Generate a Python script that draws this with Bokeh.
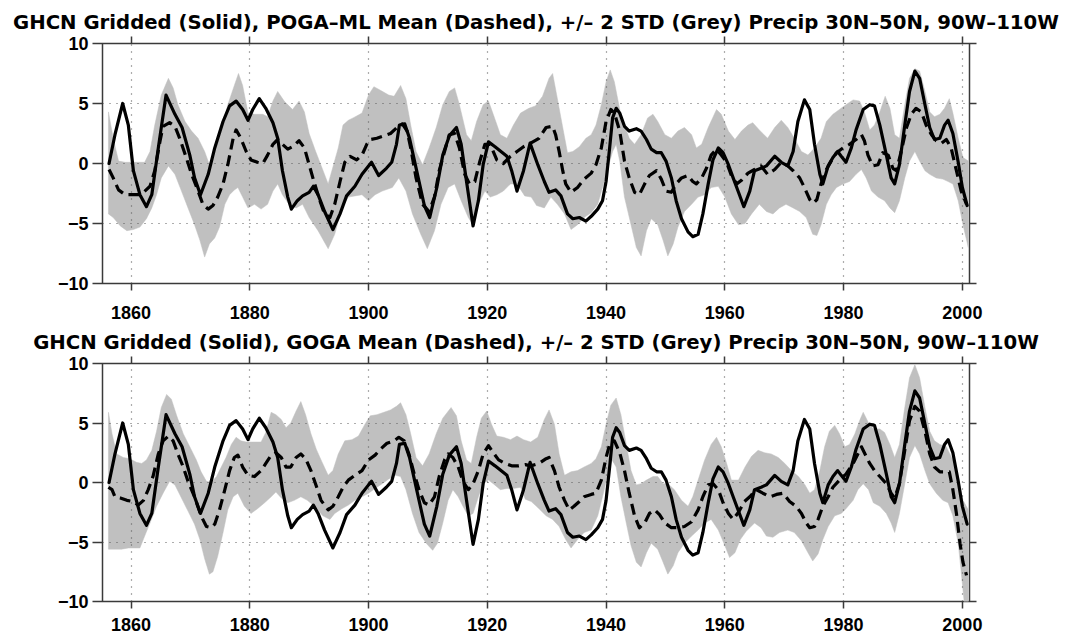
from bokeh.plotting import figure
from bokeh.models import Range1d, FixedTicker, LinearAxis, CustomJSTickFormatter
from bokeh.layouts import column
from bokeh.embed import file_html
from bokeh.resources import INLINE

# ---------------- data ----------------
ghcn_year = [1856.3, 1857.3, 1858.6, 1859.55, 1860.4, 1861.5, 1862.6, 1863.5, 1864.6, 1865.9,
             1867.4, 1868.6, 1869.9, 1870.7, 1871.7, 1873.0, 1874.1, 1875.5, 1876.6, 1877.7,
             1878.8, 1879.7, 1880.5, 1881.6, 1882.7, 1883.9, 1884.7, 1885.5, 1886.4, 1887.0,
             1888.0, 1888.9, 1890.0, 1890.7, 1891.5, 1892.6, 1894.0, 1895.2, 1896.3, 1897.7,
             1898.9, 1900.0, 1900.5, 1901.7, 1903.0, 1903.9, 1904.7, 1905.2, 1906.1, 1906.9,
             1908.1, 1909.4, 1910.3, 1911.5, 1912.5, 1913.6, 1914.8, 1915.6, 1916.5, 1917.6,
             1918.5, 1919.3, 1920.2, 1921.3, 1923.3, 1924.1, 1925.0, 1926.1, 1927.2, 1928.5,
             1929.6, 1930.4, 1931.5, 1932.4, 1933.5, 1934.4, 1935.5, 1936.6, 1937.5, 1938.6,
             1939.4, 1940.0, 1940.6, 1941.1, 1941.7, 1942.3, 1943.1, 1943.9, 1945.1, 1945.9,
             1946.8, 1947.6, 1948.5, 1949.3, 1950.1, 1951.0, 1951.8, 1952.7, 1953.8, 1954.6,
             1955.5, 1956.3, 1957.2, 1958.0, 1958.9, 1959.7, 1960.6, 1961.4, 1962.3, 1963.2,
             1964.2, 1965.0, 1966.1, 1967.0, 1968.4, 1969.5, 1970.6, 1971.5, 1972.3, 1973.4,
             1974.3, 1975.1, 1976.0, 1976.5, 1977.4, 1978.2, 1979.0, 1979.6, 1980.4, 1981.3,
             1982.1, 1983.3, 1984.4, 1985.2, 1986.1, 1987.2, 1988.0, 1988.6, 1989.4, 1990.3,
             1991.1, 1992.0, 1992.8, 1993.7, 1994.5, 1995.3, 1996.2, 1997.0, 1997.6, 1998.4,
             1999.3, 2000.0, 2000.8]
ghcn_precip = [0.0, 2.4, 5.0, 3.2, -0.6, -2.6, -3.6, -2.6, 1.3, 5.7,
               4.1, 3.0, 0.7, -1.2, -2.6, -0.9, 1.3, 3.5, 4.8, 5.2,
               4.5, 3.6, 4.5, 5.4, 4.6, 3.4, 2.1, -0.6, -2.8, -3.8,
               -3.1, -2.7, -2.4, -1.9, -2.6, -4.0, -5.5, -4.2, -2.7, -1.9,
               -0.9, -0.2, 0.1, -1.0, -0.4, 0.1, 1.6, 3.2, 3.3, 2.1,
               -0.6, -3.5, -4.5, -2.0, 0.7, 2.3, 3.0, 1.6, -1.5, -5.2,
               -3.1, -0.1, 1.8, 1.4, 0.6, -0.6, -2.3, -0.6, 1.7, -0.1,
               -1.5, -2.4, -2.2, -2.7, -4.2, -4.6, -4.5, -4.8, -4.4, -3.8,
               -3.1, -1.5, 1.3, 3.8, 4.6, 4.2, 3.1, 2.7, 2.9, 2.7,
               2.0, 1.2, 0.9, 0.9, 0.2, -1.2, -3.1, -4.6, -5.7, -6.1,
               -5.9, -4.2, -1.7, 0.3, 1.3, 0.9, -0.1, -1.2, -2.4, -3.6,
               -2.3, -0.6, -0.4, -0.2, 0.6, 0.1, -0.2, 1.0, 3.5, 5.3,
               4.5, 1.6, -0.9, -1.7, -0.2, 0.5, 1.0, 0.6, 0.1, 1.3,
               2.8, 4.5, 4.9, 4.8, 3.2, 0.7, -1.2, -1.7, -0.1, 3.2,
               6.0, 7.7, 7.1, 4.9, 3.0, 2.0, 2.1, 3.2, 3.6, 2.5,
               0.1, -2.0, -3.5]

poga_year = [1856.3, 1857.0, 1857.9, 1859.0, 1860.1, 1861.2, 1862.1, 1863.2, 1864.0, 1864.9,
             1865.4, 1866.5, 1867.4, 1868.2, 1869.3, 1870.2, 1871.3, 1872.1, 1873.0, 1873.8,
             1874.6, 1875.5, 1876.3, 1877.2, 1877.7, 1878.5, 1879.4, 1880.2, 1881.3, 1882.2,
             1883.0, 1883.9, 1884.7, 1885.5, 1886.4, 1887.2, 1888.3, 1889.2, 1890.0, 1890.8,
             1891.8, 1892.6, 1893.5, 1894.3, 1895.2, 1896.0, 1896.9, 1898.0, 1898.9, 1899.7,
             1900.3, 1901.4, 1902.6, 1903.7, 1904.8, 1905.7, 1906.5, 1907.1, 1908.0, 1909.1,
             1910.2, 1911.1, 1911.9, 1912.8, 1913.6, 1914.5, 1915.3, 1916.2, 1917.0, 1917.9,
             1918.75, 1919.6, 1920.5, 1921.6, 1922.7, 1923.9, 1925.0, 1926.1, 1927.3, 1928.7,
             1929.9, 1931.0, 1931.5, 1932.1, 1932.7, 1933.2, 1934.1, 1935.2, 1936.3, 1937.5,
             1938.3, 1939.2, 1940.0, 1940.8, 1941.4, 1942.3, 1943.1, 1943.9, 1944.8, 1945.6,
             1946.5, 1947.3, 1948.5, 1949.3, 1950.1, 1951.0, 1951.8, 1952.7, 1953.8, 1954.6,
             1955.2, 1956.1, 1956.9, 1957.7, 1958.6, 1959.4, 1960.3, 1961.1, 1962.0, 1962.8,
             1963.9, 1965.0, 1966.1, 1967.2, 1968.4, 1969.5, 1970.6, 1971.5, 1972.6, 1973.4,
             1974.3, 1974.9, 1975.5, 1976.2, 1977.1, 1977.9, 1978.8, 1979.9, 1981.0, 1982.1,
             1983.0, 1983.5, 1984.1, 1984.9, 1985.8, 1986.6, 1987.5, 1988.3, 1988.9, 1989.7,
             1990.6, 1991.4, 1992.2, 1993.1, 1993.9, 1994.8, 1995.6, 1996.5, 1997.3, 1998.1,
             1999.0, 1999.8, 2000.7]
poga_mean = [-0.5, -1.2, -2.2, -2.6, -2.6, -2.6, -2.4, -1.9, -0.6, 1.9,
             3.1, 3.4, 3.1, 2.1, 0.5, -0.9, -2.3, -3.4, -3.8, -3.5,
             -2.8, -1.7, -0.1, 2.1, 2.8, 2.1, 1.0, 0.3, 0.1, 0.0,
             0.7, 1.6, 2.0, 1.6, 1.2, 1.4, 1.9, 1.3, -0.1, -1.5,
             -3.1, -4.2, -4.5, -3.4, -1.5, 0.1, 0.6, 0.3, 0.7, 1.6,
             2.0, 2.1, 2.3, 2.5, 3.0, 3.3, 2.7, 1.3, -1.2, -3.4,
             -4.0, -2.8, -0.6, 1.0, 2.4, 2.5, 1.3, -0.9, -1.7, -1.5,
             0.2, 1.6, 1.6, 0.3, 0.0, 0.6, 1.0, 1.4, 1.7, 2.1,
             3.0, 3.1, 2.4, 1.0, -0.6, -1.7, -2.4, -2.0, -1.3, -0.8,
             -0.1, 1.3, 3.5, 4.5, 4.2, 2.7, 0.2, -1.2, -2.4, -2.6,
             -1.7, -1.0, -0.6, -1.3, -2.3, -2.4, -1.7, -1.2, -1.0, -1.5,
             -1.7, -1.2, -0.4, 0.7, 1.2, 0.7, 0.1, -1.0, -1.7, -1.4,
             -0.8, -0.5, -0.2, -0.9, -0.5, 0.1, -0.2, -0.6, -1.2, -2.0,
             -3.0, -3.3, -3.0, -1.7, -0.5, 0.2, 0.9, 1.3, 1.6, 2.0,
             2.4, 1.9, 0.7, -0.2, -0.1, 0.9, 0.7, -0.4, -0.6, 1.0,
             3.0, 4.1, 4.6, 4.3, 3.2, 2.4, 1.9, 1.7, 2.0, 1.3,
             -0.6, -2.3, -3.4]

poga_hi_year = [1856.2, 1857.0, 1857.9, 1859.0, 1860.1, 1861.2, 1862.3, 1863.2, 1864.0, 1865.1,
                1866.3, 1867.1, 1867.9, 1869.1, 1870.2, 1871.3, 1872.4, 1873.2, 1874.1, 1875.2,
                1876.3, 1877.4, 1878.1, 1878.8, 1879.7, 1880.8, 1882.2, 1883.0, 1883.9, 1884.7,
                1885.8, 1887.2, 1888.3, 1889.2, 1890.0, 1891.1, 1893.2, 1894.9, 1895.7, 1896.6,
                1897.4, 1898.9, 1900.0, 1900.9, 1902.0, 1903.4, 1904.3, 1905.4, 1906.3, 1907.1,
                1908.0, 1909.1, 1910.2, 1911.4, 1912.5, 1913.6, 1914.5, 1915.3, 1916.5, 1917.3,
                1918.2, 1919.3, 1920.2, 1921.0, 1922.2, 1923.3, 1924.4, 1925.6, 1927.0, 1928.1,
                1929.3, 1930.4, 1931.0, 1931.8, 1932.7, 1933.5, 1934.4, 1935.5, 1936.6, 1937.5,
                1938.3, 1939.2, 1940.0, 1940.7, 1941.4, 1942.3, 1943.1, 1943.9, 1944.8, 1945.9,
                1947.0, 1947.9, 1948.7, 1949.9, 1951.0, 1952.1, 1953.2, 1954.4, 1955.2, 1956.1,
                1957.2, 1958.6, 1959.4, 1960.6, 1961.7, 1962.8, 1963.9, 1964.7, 1965.8, 1967.2,
                1968.4, 1969.5, 1970.6, 1971.7, 1972.9, 1974.0, 1975.1, 1976.2, 1977.1, 1978.2,
                1979.3, 1980.4, 1981.6, 1982.7, 1983.5, 1984.4, 1985.2, 1986.1, 1987.0, 1987.8,
                1988.6, 1989.4, 1990.3, 1991.1, 1992.0, 1992.8, 1993.7, 1994.5, 1995.3, 1996.2,
                1997.0, 1997.8, 1998.4, 1999.3, 2000.1, 2001.0]
poga_hi = [4.3, 2.1, 0.2, 0.1, 0.1, 0.1, 0.1, 1.0, 3.2, 5.7,
           7.1, 6.3, 4.9, 3.5, 2.7, 2.1, 1.0, -0.1, 1.0, 2.7,
           4.9, 6.5, 7.5, 6.5, 4.2, 4.1, 4.1, 3.9, 5.2, 6.0,
           5.2, 4.5, 5.2, 4.3, 2.5, 1.0, -1.7, 1.3, 3.2, 3.6,
           3.8, 4.2, 5.7, 6.4, 6.1, 5.7, 5.6, 6.5, 5.4, 3.2,
           1.0, -0.1, 1.3, 3.0, 4.9, 6.0, 6.3, 4.9, 2.4, 1.9,
           3.5, 4.9, 5.2, 4.1, 2.4, 2.1, 3.2, 4.2, 4.6, 4.8,
           5.6, 7.1, 7.5, 5.4, 3.0, 0.9, 1.0, 1.4, 2.1, 2.4,
           3.2, 4.9, 6.8, 7.8, 6.8, 4.5, 3.2, 2.1, 1.6, 2.4,
           3.8, 4.1, 3.5, 2.4, 2.1, 2.7, 3.0, 2.4, 1.3, 1.6,
           3.0, 4.5, 4.1, 2.7, 2.0, 2.7, 3.2, 3.4, 2.8, 2.1,
           3.0, 3.6, 3.0, 2.1, 1.0, 0.7, 1.3, 2.1, 3.5, 4.1,
           4.5, 4.9, 5.3, 5.2, 4.3, 2.8, 3.2, 4.3, 5.6, 4.6,
           2.4, 2.1, 4.9, 7.1, 7.9, 7.7, 6.0, 4.3, 3.9, 4.1,
           4.6, 5.4, 4.2, 2.1, 0.5, 0.2]

poga_lo_year = [1856.2, 1857.0, 1858.2, 1859.3, 1860.4, 1861.5, 1862.6, 1863.5, 1864.3, 1865.1,
                1866.3, 1867.4, 1868.5, 1869.6, 1870.7, 1871.6, 1872.4, 1873.2, 1874.1, 1874.9,
                1875.8, 1876.6, 1877.4, 1878.0, 1878.8, 1879.7, 1880.8, 1881.9, 1883.0, 1883.9,
                1884.7, 1885.5, 1886.6, 1887.8, 1888.9, 1890.0, 1891.5, 1893.2, 1894.3, 1895.5,
                1896.6, 1897.7, 1898.9, 1900.0, 1901.1, 1902.3, 1904.0, 1905.1, 1906.3, 1907.4,
                1908.8, 1909.9, 1911.1, 1912.2, 1913.4, 1914.5, 1915.6, 1916.8, 1917.6, 1918.5,
                1919.6, 1920.5, 1921.6, 1922.7, 1923.9, 1925.0, 1926.3, 1927.4, 1928.3, 1929.6,
                1930.7, 1931.8, 1933.0, 1934.1, 1935.2, 1936.3, 1937.5, 1938.6, 1939.4, 1940.3,
                1941.1, 1941.7, 1942.3, 1943.1, 1944.2, 1945.1, 1945.9, 1946.8, 1947.6, 1948.7,
                1949.6, 1950.4, 1951.3, 1952.1, 1953.2, 1954.4, 1955.5, 1956.6, 1957.7, 1958.9,
                1960.0, 1961.1, 1962.3, 1963.4, 1964.5, 1965.8, 1967.0, 1968.1, 1969.2, 1970.3,
                1971.5, 1972.6, 1973.7, 1974.8, 1975.5, 1976.2, 1977.1, 1977.9, 1978.8, 1979.9,
                1981.0, 1982.1, 1983.0, 1983.8, 1984.7, 1985.8, 1986.9, 1987.8, 1988.6, 1989.4,
                1990.3, 1991.1, 1992.0, 1992.8, 1993.7, 1994.5, 1995.6, 1996.7, 1997.6, 1998.4,
                1999.3, 2000.1, 2001.0]
poga_lo = [-4.2, -4.5, -5.2, -5.6, -5.5, -5.3, -4.6, -3.7, -2.6, -1.2,
           -0.2, -0.9, -2.3, -3.7, -5.1, -6.4, -7.8, -6.7, -6.2, -5.3,
           -3.4, -2.6, -2.2, -2.0, -2.8, -3.7, -3.4, -3.8, -3.4, -2.3,
           -1.7, -2.6, -3.4, -3.7, -3.4, -4.5, -5.6, -7.1, -5.9, -3.7,
           -2.8, -2.7, -2.6, -3.1, -2.6, -2.3, -2.0, -1.2, -2.3, -4.2,
           -5.9, -7.1, -5.6, -3.4, -2.0, -1.7, -3.1, -4.5, -5.1, -3.4,
           -2.3, -2.8, -2.6, -2.3, -1.7, -1.7, -2.7, -2.8, -3.5, -3.7,
           -2.8, -3.4, -4.2, -5.5, -5.1, -4.5, -4.1, -3.4, -2.0, -0.4,
           1.0, 1.6, 0.2, -2.8, -5.1, -7.0, -7.7, -5.6, -4.6, -5.1,
           -6.4, -7.7, -6.7, -5.3, -4.0, -3.4, -2.8, -2.6, -2.0, -1.9,
           -2.8, -4.2, -5.1, -5.0, -4.2, -3.4, -4.0, -4.2, -3.7, -3.4,
           -3.7, -4.0, -4.5, -5.9, -6.0, -5.1, -3.4, -2.6, -2.0, -1.7,
           -1.5, -0.9, -0.5, -1.2, -2.3, -2.8, -3.1, -3.7, -4.1, -3.1,
           -1.2, 0.2, 1.0, 0.2, -0.6, -0.9, -1.2, -1.3, -1.5, -1.7,
           -3.1, -5.1, -7.0]

goga_year = [1856.2, 1856.8, 1857.3, 1858.2, 1859.3, 1860.4, 1861.2, 1862.1, 1862.9, 1863.7,
             1864.6, 1865.4, 1866.3, 1867.1, 1867.9, 1868.8, 1869.6, 1870.7, 1871.8, 1872.7,
             1873.5, 1874.1, 1874.9, 1875.8, 1876.6, 1877.4, 1878.0, 1878.8, 1879.7, 1880.8,
             1881.9, 1882.7, 1883.6, 1884.4, 1885.3, 1886.1, 1886.9, 1887.8, 1888.6, 1889.4,
             1890.3, 1891.2, 1892.0, 1893.2, 1894.0, 1894.9, 1895.7, 1896.6, 1897.7, 1898.9,
             1900.0, 1901.1, 1902.0, 1903.1, 1904.3, 1905.1, 1906.0, 1906.8, 1907.7, 1908.5,
             1909.4, 1910.2, 1911.1, 1911.9, 1912.8, 1913.4, 1914.2, 1915.1, 1915.9, 1916.8,
             1917.6, 1918.5, 1919.3, 1920.2, 1921.0, 1921.9, 1923.0, 1924.1, 1925.3, 1926.4,
             1927.3, 1928.7, 1929.9, 1930.4, 1931.3, 1932.1, 1933.0, 1933.8, 1934.6, 1935.5,
             1936.3, 1937.5, 1938.3, 1939.2, 1940.0, 1940.7, 1941.4, 1942.3, 1943.1, 1943.9,
             1944.8, 1945.6, 1946.5, 1947.3, 1948.2, 1949.0, 1949.9, 1951.0, 1952.1, 1953.2,
             1954.4, 1955.5, 1956.3, 1957.2, 1958.0, 1958.9, 1959.7, 1960.6, 1961.4, 1962.3,
             1963.3, 1964.2, 1965.3, 1966.4, 1967.6, 1968.7, 1969.8, 1970.9, 1972.0, 1972.9,
             1973.7, 1974.3, 1975.1, 1975.7, 1976.5, 1977.4, 1978.2, 1979.3, 1980.4, 1981.6,
             1982.4, 1983.0, 1983.5, 1984.4, 1985.2, 1986.1, 1987.2, 1988.0, 1988.6, 1989.4,
             1990.3, 1991.1, 1992.0, 1992.8, 1993.7, 1994.5, 1995.3, 1996.2, 1997.0, 1997.8,
             1998.4, 1999.0, 1999.6, 2000.1, 2000.7]
goga_mean = [-0.4, -0.6, -1.2, -1.3, -1.5, -1.6, -1.9, -1.5, -0.6, 0.5,
             2.4, 3.5, 3.9, 3.5, 2.4, 1.3, 0.1, -1.2, -2.8, -3.7,
             -3.8, -3.5, -2.3, -0.6, 1.0, 2.1, 2.3, 1.3, 0.6, 0.5,
             1.0, 1.6, 2.3, 2.5, 2.1, 1.3, 1.3, 2.1, 2.4, 2.0,
             1.0, -0.3, -1.5, -2.3, -2.0, -1.2, -0.4, 0.2, 0.6, 1.0,
             1.9, 2.3, 2.8, 3.3, 3.5, 3.8, 3.5, 2.4, 0.7, -0.6,
             -1.7, -1.9, -1.2, 0.5, 1.9, 2.4, 2.1, 1.3, 0.1, -0.6,
             -0.1, 1.0, 2.4, 3.1, 2.5, 1.9, 1.6, 1.4, 1.4, 1.5,
             1.4, 1.6, 2.0, 2.1, 1.0, -0.4, -1.5, -2.3, -2.0, -1.6,
             -1.2, -1.0, -0.9, 0.2, 2.1, 3.4, 3.5, 2.5, 1.0, -0.9,
             -2.8, -3.8, -3.4, -2.6, -2.3, -2.7, -3.4, -3.8, -3.8, -3.7,
             -3.3, -2.3, -1.2, -0.2, -0.1, -0.6, -1.7, -2.6, -3.1, -2.5,
             -1.6, -1.2, -0.6, -0.9, -1.2, -1.0, -0.9, -1.6, -2.0, -2.6,
             -3.4, -3.8, -3.7, -3.1, -2.0, -1.2, -0.4, 0.2, 0.7, 1.6,
             2.4, 3.0, 2.5, 1.6, 1.0, 0.5, -0.1, -0.9, -1.3, -0.1,
             2.7, 5.2, 6.4, 6.0, 4.3, 2.4, 1.3, 0.9, 0.9, 0.9,
             -0.6, -2.6, -5.1, -6.7, -7.8]

goga_hi_year = [1856.2, 1856.8, 1857.6, 1858.7, 1859.8, 1860.9, 1861.8, 1862.6, 1863.5, 1864.3,
                1865.1, 1866.0, 1866.8, 1867.7, 1868.8, 1869.9, 1871.0, 1871.8, 1872.7, 1873.5,
                1874.4, 1875.2, 1876.0, 1876.9, 1877.7, 1878.5, 1879.4, 1880.5, 1881.9, 1882.7,
                1883.6, 1884.4, 1885.3, 1886.1, 1886.9, 1887.8, 1888.6, 1889.4, 1890.3, 1891.2,
                1892.0, 1893.2, 1894.0, 1894.9, 1896.0, 1897.2, 1898.3, 1899.4, 1900.3, 1901.4,
                1902.6, 1903.7, 1904.7, 1905.4, 1906.3, 1907.1, 1908.0, 1909.1, 1910.2, 1911.4,
                1912.5, 1913.9, 1914.8, 1915.6, 1916.5, 1917.3, 1918.2, 1919.0, 1919.9, 1920.7,
                1921.6, 1922.7, 1923.9, 1925.0, 1926.1, 1927.3, 1928.5, 1929.6, 1930.4, 1931.3,
                1932.1, 1933.0, 1934.1, 1935.2, 1936.3, 1937.5, 1938.3, 1939.2, 1940.0, 1940.8,
                1941.7, 1942.5, 1943.4, 1944.2, 1945.1, 1945.9, 1946.8, 1947.9, 1948.7, 1949.6,
                1950.4, 1951.5, 1952.7, 1953.8, 1954.6, 1955.5, 1956.6, 1957.7, 1958.6, 1959.4,
                1960.3, 1961.1, 1962.3, 1963.4, 1964.5, 1965.6, 1966.7, 1967.8, 1969.0, 1970.1,
                1971.2, 1972.4, 1973.5, 1974.3, 1975.1, 1976.0, 1976.8, 1977.6, 1978.5, 1979.3,
                1980.2, 1981.0, 1981.9, 1982.7, 1983.3, 1984.2, 1985.0, 1986.1, 1986.9, 1987.8,
                1988.6, 1989.4, 1990.3, 1991.1, 1992.0, 1992.8, 1993.7, 1994.5, 1995.3, 1996.2,
                1997.3, 1998.4, 1999.3, 2000.1, 2001.0]
goga_hi = [5.9, 4.1, 2.4, 2.1, 2.0, 1.7, 1.6, 1.9, 2.7, 4.3,
           6.3, 7.4, 7.0, 5.6, 4.1, 3.0, 1.9, 0.9, 0.1, 0.0,
           0.5, 1.3, 2.1, 3.2, 3.8, 3.5, 3.4, 3.4, 3.4, 4.2,
           5.9, 5.7, 5.3, 4.6, 5.0, 6.0, 6.8, 5.7, 4.1, 2.8,
           1.9, 0.6, 1.0, 2.4, 3.5, 3.6, 3.9, 4.9, 5.6, 5.7,
           5.9, 6.1, 6.4, 6.7, 5.7, 4.1, 2.1, 1.4, 2.4, 4.1,
           5.4, 6.3, 5.6, 3.5, 1.9, 1.6, 3.8, 5.4, 6.0, 4.9,
           3.9, 3.8, 3.6, 3.9, 3.6, 3.4, 3.8, 5.3, 6.1, 4.9,
           2.4, 0.6, 0.9, 1.0, 1.3, 1.6, 2.0, 3.0, 4.9, 6.5,
           7.1, 5.7, 3.2, 1.0, -0.2, -0.1, 0.2, 0.5, 0.5, -0.1,
           -0.1, -0.6, -1.5, -2.0, -1.2, 0.2, 1.9, 3.2, 3.8, 3.0,
           1.6, 0.2, 0.2, 1.3, 2.2, 2.7, 2.5, 2.4, 2.1, 1.6,
           1.0, 0.5, -0.2, -0.9, -0.6, 1.0, 3.0, 4.3, 4.8, 4.1,
           3.0, 3.2, 4.1, 5.2, 5.9, 5.0, 4.5, 4.5, 4.2, 3.2,
           2.1, 3.2, 6.3, 8.8, 9.9, 8.8, 6.3, 4.3, 3.5, 3.2,
           3.0, 1.9, 0.5, -1.5, -2.3]

goga_lo_year = [1856.2, 1857.3, 1858.4, 1859.6, 1860.7, 1861.5, 1862.3, 1863.2, 1864.3, 1865.4,
                1866.5, 1867.4, 1868.5, 1869.6, 1870.7, 1871.6, 1872.4, 1873.2, 1873.8, 1874.6,
                1875.5, 1876.3, 1877.2, 1878.0, 1879.1, 1880.2, 1881.3, 1882.5, 1883.6, 1884.4,
                1885.3, 1886.4, 1887.5, 1888.6, 1889.7, 1890.9, 1892.3, 1893.5, 1894.3, 1895.5,
                1896.6, 1897.7, 1898.9, 1900.0, 1901.1, 1902.3, 1903.4, 1904.5, 1905.4, 1906.3,
                1907.4, 1908.5, 1909.7, 1910.8, 1911.6, 1912.5, 1913.4, 1914.2, 1915.1, 1915.9,
                1916.8, 1917.6, 1918.5, 1919.3, 1920.2, 1921.0, 1922.2, 1923.3, 1924.4, 1925.6,
                1926.4, 1927.4, 1928.5, 1929.9, 1931.0, 1932.1, 1933.2, 1934.1, 1935.2, 1936.3,
                1937.5, 1938.6, 1939.4, 1940.3, 1941.0, 1941.7, 1942.5, 1943.4, 1944.2, 1945.1,
                1945.9, 1946.8, 1947.6, 1948.7, 1949.6, 1950.4, 1951.3, 1952.1, 1953.2, 1954.4,
                1955.5, 1956.6, 1957.7, 1958.9, 1960.0, 1960.8, 1961.7, 1962.6, 1963.6, 1965.0,
                1966.1, 1967.0, 1968.1, 1969.2, 1970.6, 1971.7, 1972.9, 1974.0, 1974.8, 1975.7,
                1976.5, 1977.4, 1978.5, 1979.6, 1980.4, 1981.6, 1982.4, 1983.3, 1984.2, 1985.0,
                1986.1, 1987.2, 1988.0, 1988.6, 1989.4, 1990.3, 1991.1, 1992.0, 1992.8, 1993.7,
                1994.5, 1995.6, 1996.7, 1997.6, 1998.4, 1999.3, 1999.8, 2000.4, 2001.0]
goga_lo = [-5.6, -5.6, -5.6, -5.5, -5.5, -5.5, -4.5, -3.4, -2.0, -0.9,
           0.1, -0.2, -1.3, -2.4, -3.5, -4.8, -6.4, -7.7, -7.5, -6.2,
           -4.2, -2.3, -1.2, -0.9, -2.0, -2.6, -2.2, -1.7, -1.2, -0.8,
           -1.3, -1.7, -1.5, -1.2, -1.5, -2.0, -2.8, -3.1, -2.6, -2.2,
           -1.9, -1.5, -1.2, -0.9, -0.5, -0.1, 0.3, 0.6, 0.5, -0.6,
           -2.6, -4.2, -5.1, -5.7, -5.1, -3.4, -1.5, -0.6, -1.2, -2.0,
           -2.8, -2.6, -1.2, -0.1, 0.2, -0.1, -0.6, -0.5, -0.5, -0.4,
           -1.4, -1.6, -2.1, -2.8, -3.1, -3.7, -4.8, -5.5, -4.8, -4.2,
           -4.0, -2.8, -1.2, 0.7, 1.9, 1.3, -1.2, -3.4, -5.3, -6.7,
           -7.1, -5.9, -5.1, -5.6, -6.7, -7.7, -7.0, -5.9, -5.1, -4.5,
           -4.0, -3.4, -3.1, -4.0, -5.3, -6.3, -5.9, -4.8, -4.1, -3.4,
           -3.8, -4.5, -4.6, -4.2, -4.0, -4.2, -4.9, -5.9, -6.6, -6.0,
           -4.8, -3.7, -2.8, -2.6, -2.2, -1.5, -0.6, -0.1, -0.6, -1.7,
           -2.0, -2.6, -3.4, -4.2, -2.6, -0.1, 2.1, 3.1, 2.4, 1.0,
           -0.1, -0.9, -1.5, -1.7, -2.8, -5.1, -7.5, -10.5, -10.5]

x_ticks = [1860, 1880, 1900, 1920, 1940, 1960, 1980, 2000]
y_ticks = [-10, -5, 0, 5, 10]
titles = [
    "GHCN Gridded (Solid), POGA\u2013ML Mean (Dashed), +/\u2013 2 STD (Grey) Precip 30N\u201350N, 90W\u2013110W",
    "GHCN Gridded (Solid), GOGA Mean (Dashed), +/\u2013 2 STD (Grey) Precip 30N\u201350N, 90W\u2013110W",
]

# ---------------- styling ----------------
TICK_FONT = "Liberation Sans"
TITLE_FONT = "DejaVu Sans"
FRAME_COLOR = "#3a3a3a"
BAND_COLOR = "#c0c0c0"
minus_fmt = "return (tick < 0 ? '\u2212' : '') + Math.abs(tick).toString();"
blank_fmt = "return '';"


def make_panel(title, mean_year, mean_vals, hi_year, hi_vals, lo_year, lo_vals,
               height, top, bottom, x_standoff, title_standoff):
    p = figure(width=1064, height=height, output_backend="svg", toolbar_location=None,
               x_range=Range1d(1855.2, 2001.2), y_range=Range1d(-10, 10),
               min_border_left=102, min_border_right=95,
               min_border_top=top, min_border_bottom=bottom,
               background_fill_color="white", border_fill_color="white")
    p.outline_line_color = FRAME_COLOR
    p.outline_line_width = 1.5

    p.title.text = title
    p.title.text_font = TITLE_FONT
    p.title.text_font_style = "bold"
    p.title.text_font_size = "19.7px"
    p.title.text_color = "black"
    p.title.align = "center"
    p.title.standoff = title_standoff

    xt = FixedTicker(ticks=x_ticks, minor_ticks=[])
    yt = FixedTicker(ticks=y_ticks, minor_ticks=[])

    for ax in p.xaxis:
        ax.ticker = xt
        ax.axis_line_color = None
        ax.major_tick_out = 7
        ax.major_tick_in = 0
        ax.major_tick_line_color = FRAME_COLOR
        ax.major_tick_line_width = 1.5
        ax.minor_tick_line_color = None
        ax.major_label_standoff = x_standoff
        ax.major_label_text_font = TICK_FONT
        ax.major_label_text_font_style = "bold"
        ax.major_label_text_font_size = "18px"
        ax.major_label_text_color = "black"
    for ax in p.yaxis:
        ax.ticker = yt
        ax.formatter = CustomJSTickFormatter(code=minus_fmt)
        ax.axis_line_color = None
        ax.major_tick_out = 10
        ax.major_tick_in = 0
        ax.major_tick_line_color = FRAME_COLOR
        ax.major_tick_line_width = 1.5
        ax.minor_tick_line_color = None
        ax.major_label_standoff = 4
        ax.major_label_text_font = TICK_FONT
        ax.major_label_text_font_style = "bold"
        ax.major_label_text_font_size = "18px"
        ax.major_label_text_color = "black"

    # tick marks on the top and right sides (labels left blank)
    top_ax = LinearAxis(ticker=FixedTicker(ticks=x_ticks, minor_ticks=[]),
                        formatter=CustomJSTickFormatter(code=blank_fmt),
                        axis_line_color=None, major_tick_out=7, major_tick_in=0,
                        major_tick_line_color=FRAME_COLOR, major_tick_line_width=1.5,
                        minor_tick_line_color=None, major_label_standoff=0)
    right_ax = LinearAxis(ticker=FixedTicker(ticks=y_ticks, minor_ticks=[]),
                          formatter=CustomJSTickFormatter(code=blank_fmt),
                          axis_line_color=None, major_tick_out=7, major_tick_in=0,
                          major_tick_line_color=FRAME_COLOR, major_tick_line_width=1.5,
                          minor_tick_line_color=None, major_label_standoff=0)
    p.add_layout(top_ax, "above")
    p.add_layout(right_ax, "right")

    p.xgrid.ticker = xt
    p.ygrid.ticker = FixedTicker(ticks=[-5, 0, 5], minor_ticks=[])
    for g in (p.xgrid, p.ygrid):
        g.grid_line_color = "#5a5a5a"
        g.grid_line_dash = "1 6"
        g.grid_line_width = 1.2
        g.level = "underlay"

    band_x = list(hi_year) + list(reversed(lo_year))
    band_y = list(hi_vals) + list(reversed(lo_vals))
    band = p.patch(band_x, band_y, fill_color=BAND_COLOR, line_color=BAND_COLOR, line_width=0.5)
    band.level = "image"

    p.line(mean_year, mean_vals, line_color="black", line_width=3.2,
           line_dash="11 6", line_join="round")
    p.line(ghcn_year, ghcn_precip, line_color="black", line_width=3.2,
           line_join="round", line_cap="round")
    return p


p1 = make_panel(titles[0], poga_year, poga_mean, poga_hi_year, poga_hi, poga_lo_year, poga_lo,
                height=326, top=43, bottom=43, x_standoff=15, title_standoff=6)
p2 = make_panel(titles[1], goga_year, goga_mean, goga_hi_year, goga_hi, goga_lo_year, goga_lo,
                height=312, top=35, bottom=37, x_standoff=9, title_standoff=5)

layout = column(p1, p2, spacing=0)
open("out.html", "w").write(file_html(layout, INLINE))
